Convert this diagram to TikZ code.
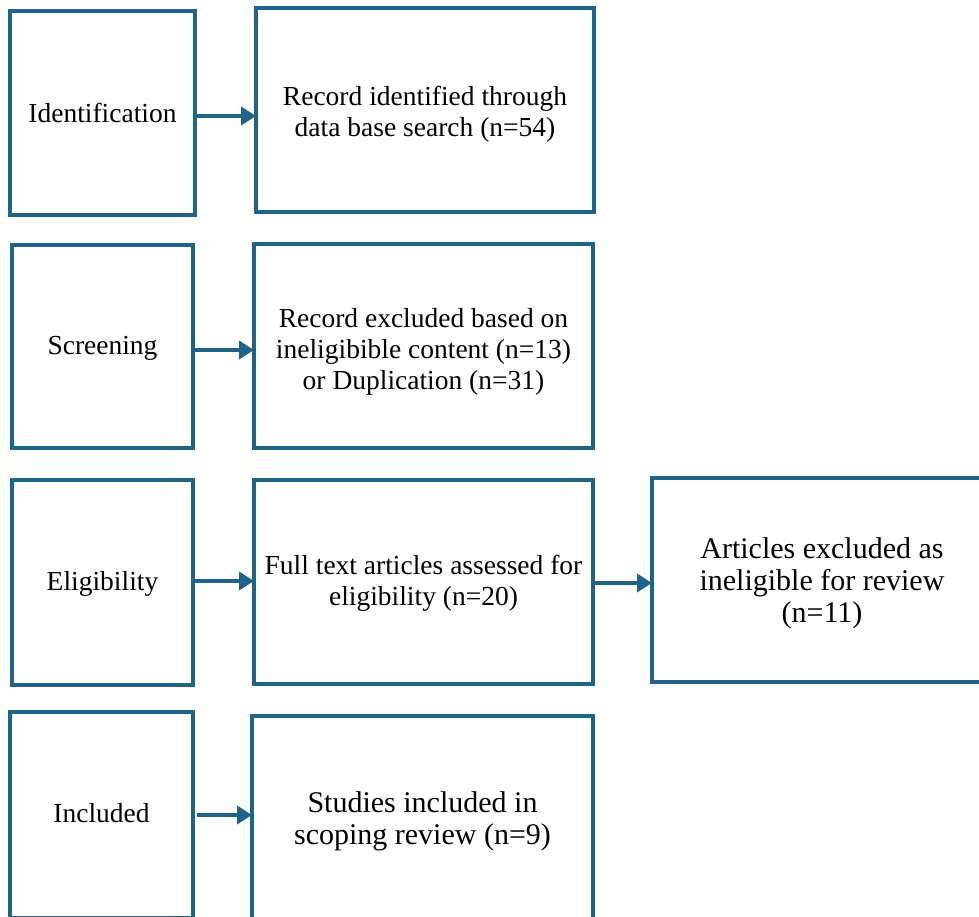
\documentclass[tikz,border=0pt]{standalone}
\usepackage{fontspec}
\setmainfont{Liberation Serif}
\usetikzlibrary{arrows.meta}
\definecolor{boxblue}{RGB}{31,99,136}
\tikzset{
  box/.style={draw=boxblue, line width=3.2pt, rectangle, inner sep=0pt, outer sep=0pt},
  txt/.style={align=center, inner sep=0pt, font=\fontsize{27.5}{31}\selectfont},
  bigtxt/.style={txt, font=\fontsize{30}{32}\selectfont},
  arr/.style={draw=boxblue, line width=4.5pt, -{Triangle[length=15pt,width=18pt]}}
}
\begin{document}
\begin{tikzpicture}[x=1pt,y=-1pt]
\useasboundingbox (0,0) rectangle (979,916);
\fill[white] (0,0) rectangle (979,916);
% row 1
\node[box, minimum width=185pt, minimum height=204pt] (A1) at (102.5,113) {};
\node[txt] (tA1) at ([yshift=0pt]A1.center) {Identification};
\node[box, minimum width=338pt, minimum height=204pt] (B1) at (425,110) {};
\node[txt] (tB1) at ([yshift=-4.5pt]B1.center) {Record identified through\\data base search (n=54)};
% row 2
\node[box, minimum width=181pt, minimum height=203pt] (A2) at (102.5,346.5) {};
\node[txt] (tA2) at ([yshift=-2pt]A2.center) {Screening};
\node[box, minimum width=339pt, minimum height=204pt] (B2) at (423.5,346) {};
\node[txt] (tB2) at ([yshift=-6pt]B2.center) {Record excluded based on\\ineligibible content (n=13)\\or Duplication (n=31)};
% row 3
\node[box, minimum width=181pt, minimum height=205pt] (A3) at (102.5,582.5) {};
\node[txt] (tA3) at ([yshift=-1pt]A3.center) {Eligibility};
\node[box, minimum width=339pt, minimum height=204pt] (B3) at (423.5,582) {};
\node[txt] (tB3) at ([yshift=-1pt]B3.center) {Full text articles assessed for\\eligibility (n=20)};
\node[box, minimum width=340pt, minimum height=204pt] (C3) at (822,580) {};
\node[bigtxt] (tC3) at ([yshift=-3pt]C3.center) {Articles excluded as\\ineligible for review\\(n=11)};
% row 4
\node[box, minimum width=183pt, minimum height=206pt] (A4) at (101.5,815) {};
\node[txt] (tA4) at ([yshift=1.5pt]A4.center) {Included};
\node[box, minimum width=341pt, minimum height=204pt] (B4) at (422.5,818) {};
\node[bigtxt] (tB4) at ([yshift=-3pt]B4.center) {Studies included in\\scoping review (n=9)};
% arrows
\draw[arr] (A1.east |- 0,116) -- (B1.west |- 0,116);
\draw[arr] (A2.east |- 0,350) -- (B2.west |- 0,350);
\draw[arr] (A3.east |- 0,581) -- (B3.west |- 0,581);
\draw[arr] (B3.east |- 0,583) -- (C3.west |- 0,583);
\draw[arr] ([xshift=4pt]A4.east |- 0,815) -- (B4.west |- 0,815);
\end{tikzpicture}
\end{document}
